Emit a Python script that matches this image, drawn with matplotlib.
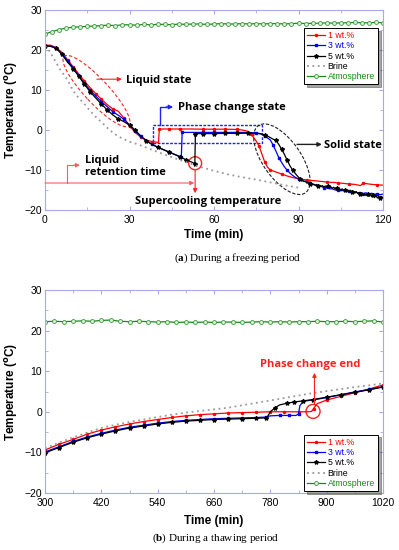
import matplotlib
matplotlib.use('Agg')
import matplotlib.pyplot as plt
from matplotlib.patches import Ellipse, Rectangle
from matplotlib.transforms import ScaledTranslation
from matplotlib.ticker import MultipleLocator
import numpy as np

# ---------------- (a) freezing period ----------------
t1a = [0, 2, 4, 6, 8, 10, 12, 14, 16, 18, 20, 22, 24, 26, 28, 30, 32, 34, 36, 38, 40.3, 40.6,
       44, 48, 52, 56, 60, 64, 68, 70, 72, 73, 74, 75, 76, 77, 78, 79, 80, 82, 84, 86, 88, 90,
       93, 96, 100, 104, 108, 110, 112, 113, 114, 116, 118, 120]
T1a = [21.2, 21.2, 20.6, 19.4, 17.6, 15.8, 14.0, 12.2, 10.6, 9.1, 7.7, 6.4, 5.3, 4.7, 3.0, 1.0, -0.6, -1.8, -2.5, -2.9, -3.1, 0.25,
       0.25, 0.25, 0.25, 0.2, 0.2, 0.2, 0.15, 0.0, -0.3, -0.9, -1.8, -2.8, -4.0, -6.0, -8.0, -9.3, -10.0, -10.5, -11.0, -11.5, -11.9, -12.2,
       -12.5, -12.7, -13.0, -13.2, -13.5, -13.6, -13.9, -13.3, -13.4, -13.6, -13.7, -13.8]

t3a = [0, 2, 4, 6, 8, 10, 12, 14, 16, 18, 20, 22, 24, 26, 28, 30, 32, 34, 36, 38, 40, 42, 44, 46, 48.4, 48.7,
       52, 56, 60, 64, 68, 72, 75, 77, 78, 79, 80, 81, 82, 83, 84, 85, 86, 87, 88, 89, 90,
       91, 92, 93, 94, 95, 96, 97, 98, 99, 100, 101, 102, 103, 104, 105, 106, 107, 108, 109, 110,
       111, 112, 113, 114, 115, 116, 117, 118, 119, 120]
T3a = [21.0, 21.0, 20.5, 19.1, 17.3, 15.5, 13.6, 11.7, 10.0, 8.5, 7.1, 5.9, 4.6, 3.7, 2.7, 1.3, -0.2, -1.6, -2.7, -3.6, -4.3, -4.9, -5.5, -6.1, -6.75, -0.6,
       -0.6, -0.6, -0.6, -0.6, -0.6, -0.6, -0.7, -1.0, -1.5, -2.0, -2.5, -3.8, -5.3, -6.9, -8.1, -9.2, -10.1, -10.8, -11.4, -11.9, -12.2,
       -12.5, -12.8, -13.0, -13.3, -13.5, -13.7, -14.0, -14.1, -14.4, -14.5, -14.7, -14.7, -15.0, -14.9, -15.2, -15.1, -15.4, -15.3, -15.6, -15.4,
       -15.7, -15.6, -15.9, -15.7, -16.0, -15.8, -16.1, -15.9, -16.2, -16.0]

t5a = [0, 2, 4, 6, 8, 10, 12, 14, 16, 18, 20, 22, 24, 26, 28, 30, 32, 34, 36, 38, 40, 42, 44, 46, 48, 50, 52, 53.2, 53.4,
       56, 60, 64, 68, 72, 76, 78, 79, 80, 81, 82, 83, 84, 85, 86, 87, 88, 89]
T5a = [21.0, 20.9, 20.4, 18.9, 17.0, 15.3, 13.4, 11.4, 9.6, 8.0, 6.5, 5.1, 3.8, 2.8, 2.1, 1.2, 0.0, -1.5, -2.7, -3.6, -4.3, -4.9, -5.5, -6.1, -6.75, -7.4, -8.0, -8.4, -0.9,
       -0.9, -0.9, -0.85, -0.85, -0.8, -0.9, -1.2, -1.5, -1.9, -2.3, -2.6, -3.6, -4.8, -6.1, -7.6, -9.0, -10.1, -11.0]
t5_tail = np.arange(90, 120.01, 0.5)
T5_tail = [-11.8, -12.2, -12.3, -12.7, -12.9, -12.8, -13.3, -13.2, -13.5, -13.3, -13.7, -13.6, -13.9, -13.6, -14.0, -13.8,
           -14.1, -13.9, -14.3, -14.0, -14.3, -14.1, -14.5, -14.2, -14.6, -14.3, -14.7, -14.5, -14.9, -14.6, -15.0, -14.7,
           -15.2, -14.9, -15.3, -15.0, -15.5, -15.1, -15.6, -15.3, -15.8, -15.4, -15.9, -15.6, -16.1, -15.7, -16.3, -15.9,
           -16.4, -16.0, -16.6, -16.1, -16.7, -16.3, -16.9, -16.4, -17.0, -16.5, -17.1, -16.6, -17.0]

tba = [0, 1, 2, 3, 4, 5, 6, 7, 8, 10, 12, 14, 16, 18, 20, 22, 24, 26, 28, 30, 33, 36, 40, 45, 50, 55, 60, 65, 70, 75, 80, 85, 90]
Tba = [21.0, 20.3, 19.3, 18.0, 16.8, 15.5, 14.5, 13.5, 12.5, 9.8, 8.0, 6.5, 4.8, 3.3, 2.0, 0.6, -0.6, -1.6, -2.3, -2.9, -3.6, -4.4,
       -5.5, -6.8, -8.0, -9.2, -10.2, -11.1, -11.8, -12.4, -13.1, -13.8, -14.4]

taa = np.arange(0, 120.01, 2.5)
Taa = [24.0, 24.6, 25.1, 25.5, 25.7, 25.8, 25.9, 26.0, 26.1, 26.2, 26.1, 26.3, 26.3, 26.2, 26.4, 26.3, 26.4, 26.4, 26.3, 26.5,
       26.4, 26.5, 26.5, 26.4, 26.5, 26.6, 26.5, 26.5, 26.6, 26.5, 26.6, 26.5, 26.6, 26.6, 26.5, 26.6, 26.7, 26.6, 26.7, 26.7,
       26.8, 26.7, 26.8, 26.8, 26.9, 26.8, 26.8, 26.9, 26.8]

# ---------------- (b) thawing period ----------------
t1b = [300, 330, 360, 390, 420, 450, 480, 510, 540, 570, 600, 630, 660, 690, 720, 750, 780, 810, 840, 860, 868, 872, 880,
       900, 930, 960, 990, 1020]
T1b = [-9.4, -8.0, -6.8, -5.5, -4.5, -3.7, -3.0, -2.4, -1.9, -1.4, -1.0, -0.7, -0.5, -0.3, -0.2, -0.1, 0.0, 0.0, 0.0, 0.0, 0.1, 0.8, 2.0,
       2.9, 3.8, 4.7, 5.6, 6.6]
t3b = [300, 330, 360, 390, 420, 450, 480, 510, 540, 570, 600, 630, 660, 690, 720, 750, 770, 780, 800, 820, 835, 840, 843,
       850, 870, 900, 930, 960, 990, 1020]
T3b = [-9.9, -8.6, -7.3, -6.2, -5.3, -4.5, -3.8, -3.3, -2.8, -2.4, -2.1, -1.9, -1.7, -1.6, -1.5, -1.4, -1.3, -1.0, -0.9, -0.9, -0.9, -0.5, 1.5,
       2.6, 2.9, 3.5, 4.2, 4.9, 5.5, 6.2]
t5b = [300, 330, 360, 390, 420, 450, 480, 510, 540, 570, 600, 630, 660, 690, 720, 750, 770, 775, 780, 790, 800, 815, 830,
       850, 870, 900, 930, 960, 990, 1020]
T5b = [-10.1, -8.8, -7.5, -6.4, -5.5, -4.7, -4.0, -3.5, -3.0, -2.6, -2.3, -2.1, -1.9, -1.8, -1.7, -1.6, -1.5, -1.0, 0.0, 1.0, 1.7, 2.1, 2.4,
       2.7, 3.0, 3.6, 4.2, 4.8, 5.4, 6.1]
tbb = [300, 330, 360, 390, 420, 450, 480, 510, 540, 570, 600, 630, 660, 690, 720, 750, 780, 810, 840, 870, 900, 930, 960, 990, 1020]
Tbb = [-9.0, -7.6, -6.3, -5.1, -4.0, -3.2, -2.5, -1.9, -1.3, -0.7, -0.2, 0.2, 0.6, 1.0, 1.6, 2.2, 2.8, 3.4, 4.0, 4.6, 5.1, 5.6,
       6.1, 6.5, 7.0]
tab = np.arange(300, 1020.1, 20)
Tab = [22.2, 22.3, 22.2, 22.3, 22.4, 22.3, 22.5, 22.6, 22.3, 22.2, 22.3, 22.2, 22.1, 22.2, 22.0, 22.1, 22.0, 22.1, 22.0,
       22.1, 22.1, 22.0, 22.1, 22.2, 22.1, 22.2, 22.1, 22.2, 22.2, 22.3, 22.2, 22.2, 22.3, 22.2, 22.3, 22.4, 22.1]

labels = ['1 wt.%', '3 wt.%', '5 wt.%', 'Brine', 'Atmosphere']
colors = ['#ff0000', '#0000ff', '#000000', '#999999', '#1a8a1a']
xticks_a = [0, 30, 60, 90, 120]
xticks_b = [300, 420, 540, 660, 780, 900, 1020]

plt.rcParams['font.family'] = ['Liberation Sans', 'DejaVu Sans']
ann_font = 'Open Sans'
spine_c = '#a8a8f0'

fig = plt.figure(figsize=(3.99, 5.5), dpi=100)
ax1 = fig.add_axes([45/399, 1-210/550, 338/399, 200/550])
ax2 = fig.add_axes([45/399, 1-493/550, 338/399, 203/550])


def draw_series(ax, s1, s3, s5, sb, sa):
    ax.plot(*s1, color=colors[0], lw=0.9, marker='.', ms=3, markevery=0.035, label=labels[0])
    ax.plot(*s3, color=colors[1], lw=0.9, marker='s', ms=2, markevery=0.035, label=labels[1])
    ax.plot(*s5, color=colors[2], lw=0.9, marker='*', ms=3, markevery=0.03, label=labels[2])
    ax.plot(*sb, color=colors[3], lw=1.3, ls=(0, (1, 2)), label=labels[3])
    ax.plot(*sa, color=colors[4], lw=0.9, marker='o', ms=2.8, mfc='#d8f0d8', mec='#3a9a3a', mew=0.6, label=labels[4])


def style_axes(ax, xlim, xticks):
    ax.set_xlim(*xlim)
    ax.set_ylim(-20, 30)
    ax.set_xticks(xticks)
    step = xticks[1] - xticks[0]
    ax.set_xticks([v + step/2 for v in xticks[:-1]], minor=True)
    ax.yaxis.set_major_locator(MultipleLocator(10))
    ax.yaxis.set_minor_locator(MultipleLocator(5))
    for s in ax.spines.values():
        s.set_color(spine_c)
        s.set_linewidth(0.8)
    ax.tick_params(which='both', direction='in', top=True, right=True, color=spine_c, labelsize=7.5, pad=2)
    ax.tick_params(axis='x', pad=3.5)
    ax.tick_params(which='major', length=3)
    ax.tick_params(which='minor', length=2)
    ax.set_xlabel('Time (min)', fontsize=8.5, fontweight='bold')
    ax.set_ylabel('Temperature ($^{\\mathbf{o}}$C)', fontsize=8.5, fontweight='bold')
    ax.yaxis.set_label_coords(-0.075, 0.5)


def legend(ax, **kw):
    leg = ax.legend(fontsize=6.3, frameon=True, fancybox=False, shadow=True, edgecolor='black',
                    handlelength=2.0, handletextpad=0.3, labelspacing=0.15, borderpad=0.35,
                    borderaxespad=0, **kw)
    leg.get_frame().set_linewidth(0.7)
    for txt, c in zip(leg.get_texts(), ['#ff0000', '#0000ff', '#000000', '#000000', '#1a8a1a']):
        txt.set_color(c)


def px_shape(ax, x, y, w, h, angle=0, **kw):
    tr = fig.dpi_scale_trans + ScaledTranslation(x, y, ax.transData)
    e = Ellipse((0, 0), w/100, h/100, angle=angle, transform=tr, fill=False, **kw)
    ax.add_patch(e)


def arrow(ax, xy, xytext, color, lw=0.8):
    ax.annotate('', xy=xy, xytext=xytext,
                arrowprops=dict(arrowstyle='-|>', color=color, lw=lw, mutation_scale=6, shrinkA=0, shrinkB=0))


draw_series(ax1, (t1a, T1a), (t3a, T3a), (list(t5a) + list(t5_tail), T5a + T5_tail), (tba, Tba), (taa, Taa))
style_axes(ax1, (0, 120), xticks_a)
ax1.xaxis.set_label_coords(0.5, -0.095)
legend(ax1, loc='upper right', bbox_to_anchor=(0.985, 0.91))

# annotations (a)
red = '#ff2020'
px_shape(ax1, 18.3, 9.75, 95, 24, angle=-47, ec=red, lw=0.8, ls=(0, (3, 2)))
arrow(ax1, (27.3, 12.7), (18.4, 12.7), red)
ax1.text(28.8, 12.4, 'Liquid state', fontsize=8, fontweight='bold', family=ann_font, va='center')

ax1.add_patch(Rectangle((38.4, -3.25), 38.6, 4.5, fill=False, ec='#2020ff', lw=1.0, ls=(0, (2, 1))))
ax1.plot([41, 41, 43], [1.25, 5.75, 5.75], color='#2020ff', lw=1.0)
arrow(ax1, (45.5, 5.75), (43, 5.75), '#2020ff', lw=1.0)
ax1.text(47.3, 5.6, 'Phase change state', fontsize=8, fontweight='bold', family=ann_font, va='center')

px_shape(ax1, 84.1, -7.3, 82, 38, angle=-55, ec='#202020', lw=0.8, ls=(0, (3, 1.5)))
arrow(ax1, (98.3, -3.6), (89.5, -3.6), '#202020', lw=1.0)
ax1.text(99.0, -3.8, 'Solid state', fontsize=8, fontweight='bold', family=ann_font, va='center')

px_shape(ax1, 53.3, -8.3, 13, 13, ec=red, lw=1.0)
arrow(ax1, (53.3, -15.8), (53.3, -9.9), red)
ax1.text(57.8, -17.9, 'Supercooling temperature', fontsize=8, fontweight='bold', family=ann_font,
         ha='center', va='center')

arrow(ax1, (53.0, -13.25), (0, -13.25), '#f06060')
ax1.plot([7.8, 7.8, 10], [-13.25, -8.8, -8.8], color='#f06060', lw=0.8)
arrow(ax1, (12.4, -8.8), (10, -8.8), '#f06060')
ax1.text(14.3, -9.2, 'Liquid\nretention time', fontsize=8, fontweight='bold', family=ann_font,
         va='center', linespacing=1.1)

# ---------------- (b) ----------------
draw_series(ax2, (t1b, T1b), (t3b, T3b), (t5b, T5b), (tbb, Tbb), (tab, Tab))
style_axes(ax2, (300, 1020), xticks_b)
ax2.xaxis.set_label_coords(0.5, -0.11)
legend(ax2, loc='lower right', bbox_to_anchor=(0.985, 0.01))

px_shape(ax2, 871, 0.1, 14, 14, ec=red, lw=1.0)
arrow(ax2, (874, 9.6), (874, 1.8), red)
ax2.text(864, 11.7, 'Phase change end', fontsize=8, fontweight='bold', family=ann_font,
         color=red, ha='center', va='center')

# captions
plt.rcParams['mathtext.fontset'] = 'custom'
plt.rcParams['mathtext.bf'] = 'Liberation Serif:bold'
fig.text(238/399, 1-258/550, r'($\mathbf{a}$) During a freezing period', fontsize=8,
         family='Liberation Serif', ha='center', va='center')
fig.text(216/399, 1-538/550, r'($\mathbf{b}$) During a thawing period', fontsize=8,
         family='Liberation Serif', ha='center', va='center')

fig.savefig('out.png', dpi=100)
